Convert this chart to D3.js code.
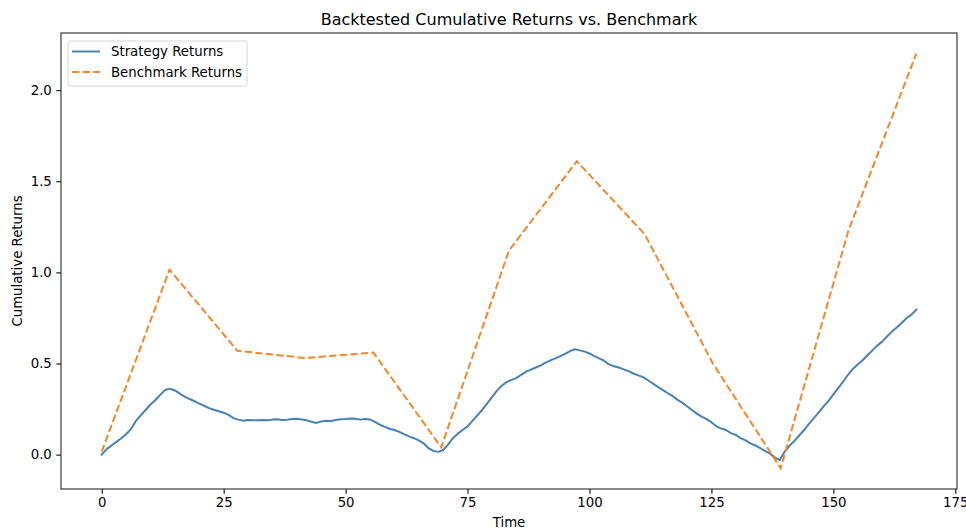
<!DOCTYPE html>
<html>
<head>
<meta charset="utf-8">
<script src="https://cdn.jsdelivr.net/npm/d3@7"></script>
<style>
  html, body { margin: 0; padding: 0; background: #fff; }
  svg { display: block; }
  text { font-family: "DejaVu Sans", sans-serif; fill: #000; }
</style>
</head>
<body>
<script>
// ---- data ----
const strategyReturns = [
  0.000, 0.030, 0.050, 0.070, 0.090, 0.112, 0.140, 0.185, 0.215, 0.245,
  0.275, 0.300, 0.328, 0.355, 0.362, 0.352, 0.335, 0.318, 0.305, 0.293,
  0.280, 0.268, 0.255, 0.246, 0.238, 0.230, 0.218, 0.200, 0.192, 0.186,
  0.190, 0.188, 0.189, 0.190, 0.189, 0.192, 0.194, 0.190, 0.191, 0.195,
  0.197, 0.193, 0.188, 0.180, 0.174, 0.182, 0.186, 0.184, 0.190, 0.194,
  0.195, 0.198, 0.197, 0.192, 0.196, 0.193, 0.180, 0.165, 0.152, 0.142,
  0.135, 0.125, 0.112, 0.100, 0.090, 0.078, 0.062, 0.035, 0.020, 0.015,
  0.025, 0.055, 0.090, 0.115, 0.135, 0.155, 0.185, 0.215, 0.245, 0.280,
  0.315, 0.350, 0.378, 0.398, 0.410, 0.420, 0.438, 0.455, 0.466, 0.478,
  0.490, 0.505, 0.517, 0.528, 0.540, 0.553, 0.568, 0.578, 0.572, 0.565,
  0.555, 0.540, 0.528, 0.515, 0.495, 0.485, 0.478, 0.468, 0.458, 0.445,
  0.435, 0.425, 0.408, 0.390, 0.372, 0.355, 0.338, 0.322, 0.302, 0.285,
  0.265, 0.245, 0.225, 0.208, 0.195, 0.178, 0.155, 0.143, 0.135, 0.118,
  0.108, 0.090, 0.078, 0.062, 0.050, 0.035, 0.020, 0.005, -0.015, -0.030,
  0.015, 0.048, 0.075, 0.105, 0.135, 0.168, 0.200, 0.232, 0.265, 0.295,
  0.330, 0.365, 0.400, 0.438, 0.470, 0.495, 0.518, 0.545, 0.572, 0.598,
  0.620, 0.648, 0.675, 0.698, 0.722, 0.748, 0.768, 0.795
];
const benchmarkTime = [0, 13.9, 27.8, 41.7, 55.7, 69.6, 83.5, 97.4, 111.3, 125.3, 139.2, 153.1, 167];
const benchmarkReturns = [0.016, 1.015, 0.57, 0.53, 0.56, 0.04, 1.12, 1.61, 1.21, 0.50, -0.075, 1.23, 2.20];
const xTicks = [0, 25, 50, 75, 100, 125, 150, 175];
const yTicks = [0.0, 0.5, 1.0, 1.5, 2.0];
const seriesNames = ["Strategy Returns", "Benchmark Returns"];
const titleText = "Backtested Cumulative Returns vs. Benchmark";
const xLabel = "Time";
const yLabel = "Cumulative Returns";

// ---- layout ----
const W = 966, H = 529;
const m = { left: 61, right: 957, top: 33, bottom: 489 };
const colStrategy = "#4682b4";
const colBench = "#f5862a";
const lw = 2;
const dash = "7.4,3.2";

const svg = d3.select("body").append("svg").attr("width", W).attr("height", H);

const strategyPts = strategyReturns.map((v, i) => ({ t: i, v }));
const benchPts = benchmarkTime.map((t, i) => ({ t, v: benchmarkReturns[i] }));

const allT = strategyPts.map(d => d.t).concat(benchPts.map(d => d.t));
const allV = strategyPts.map(d => d.v).concat(benchPts.map(d => d.v));
const tMin = d3.min(allT), tMax = d3.max(allT);
const vMin = d3.min(allV), vMax = d3.max(allV);
const tPad = (tMax - tMin) * 0.05, vPad = (vMax - vMin) * 0.05;

const x = d3.scaleLinear().domain([tMin - tPad, tMax + tPad]).range([m.left, m.right]);
const y = d3.scaleLinear().domain([vMin - vPad, vMax + vPad]).range([m.bottom, m.top]);

// axes
const fs = 13.3;
const xAxis = svg.append("g").attr("transform", `translate(0,${m.bottom})`)
  .call(d3.axisBottom(x).tickValues(xTicks).tickFormat(d3.format("d")).tickSize(4.67).tickPadding(4.2));
const yAxis = svg.append("g").attr("transform", `translate(${m.left},0)`)
  .call(d3.axisLeft(y).tickValues(yTicks).tickFormat(d3.format(".1f")).tickSize(4.67).tickPadding(4.5));
[xAxis, yAxis].forEach(g => {
  g.select(".domain").remove();
  g.selectAll(".tick line").attr("stroke", "#000").attr("stroke-width", 1.07);
  g.selectAll(".tick text").style("font-family", "DejaVu Sans").style("font-size", fs + "px").attr("fill", "#222");
});

// lines
const line = d3.line().x(d => x(d.t)).y(d => y(d.v));
const plot = svg.append("g");
plot.append("path").datum(strategyPts).attr("d", line)
  .attr("fill", "none").attr("stroke", colStrategy).attr("stroke-width", lw)
  .attr("stroke-linejoin", "round").attr("stroke-linecap", "square");
plot.append("path").datum(benchPts).attr("d", line)
  .attr("fill", "none").attr("stroke", colBench).attr("stroke-width", lw)
  .attr("stroke-dasharray", dash);

// frame
svg.append("rect").attr("x", m.left).attr("y", m.top)
  .attr("width", m.right - m.left).attr("height", m.bottom - m.top)
  .attr("fill", "none").attr("stroke", "#222").attr("stroke-width", 1.07);

// title & labels
svg.append("text").attr("x", (m.left + m.right) / 2).attr("y", 25)
  .attr("text-anchor", "middle").style("font-size", "16px").attr("fill", "#222").text(titleText);
svg.append("text").attr("x", (m.left + m.right) / 2).attr("y", 527)
  .attr("text-anchor", "middle").style("font-size", fs + "px").attr("fill", "#222").text(xLabel);
svg.append("text").attr("transform", `translate(22,${(m.top + m.bottom) / 2}) rotate(-90)`)
  .attr("text-anchor", "middle").style("font-size", fs + "px").attr("fill", "#222").text(yLabel);

// legend
const lg = svg.append("g");
lg.append("rect").attr("x", 68).attr("y", 41).attr("width", 179).attr("height", 45)
  .attr("rx", 2.5).attr("fill", "#fff").attr("fill-opacity", 0.8)
  .attr("stroke", "#d6d6d6").attr("stroke-width", 1);
const items = [
  { name: seriesNames[0], color: colStrategy, dash: null },
  { name: seriesNames[1], color: colBench, dash: dash }
];
items.forEach((it, i) => {
  const yy = 51.5 + i * 20.5;
  lg.append("line").attr("x1", 72).attr("x2", 100).attr("y1", yy).attr("y2", yy)
    .attr("stroke", it.color).attr("stroke-width", lw)
    .attr("stroke-dasharray", it.dash);
  lg.append("text").attr("x", 111).attr("y", yy + 4.8).style("font-size", fs + "px").attr("fill", "#222").text(it.name);
});
</script>
</body>
</html>
